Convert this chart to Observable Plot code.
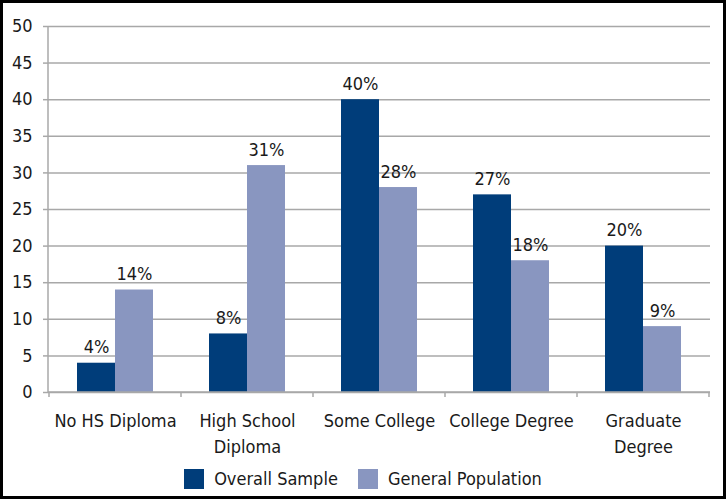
<!DOCTYPE html>
<html>
<head>
<meta charset="utf-8">
<script src="https://cdn.jsdelivr.net/npm/d3@7"></script>
<script src="https://cdn.jsdelivr.net/npm/@observablehq/plot@0.6"></script>
<style>
  html, body { margin: 0; padding: 0; background: #fff; }
  #wrap { position: relative; width: 726px; height: 499px; overflow: hidden; font-family: 'Liberation Sans Narrow', 'Arial Narrow', 'DejaVu Sans Condensed', sans-serif; }
  #border { position: absolute; left: 0; top: 0; width: 726px; height: 499px; box-sizing: border-box; border: 3px solid #000; pointer-events: none; }
  #chart { position: absolute; left: 0; top: 0; }
  #legend { position: absolute; left: 0; top: 468px; width: 726px; display: flex; justify-content: center; align-items: center; font-size: 18px; color: #1a1a1a; }
  .item { display: flex; align-items: center; margin: 0 10px; }
  .sw { width: 20px; height: 20px; margin-right: 10px; }
</style>
</head>
<body>
<div id="wrap">
  <div id="chart"></div>
  <div id="legend"></div>
  <div id="border"></div>
</div>
<script>
const categories = ["No HS Diploma", "High School\nDiploma", "Some College", "College Degree", "Graduate\nDegree"];
const seriesNames = ["Overall Sample", "General Population"];
const overallSample = [4, 8, 40, 27, 20];
const generalPopulation = [14, 31, 28, 18, 9];
const yTicks = [0, 5, 10, 15, 20, 25, 30, 35, 40, 45, 50];
const seriesColors = ["#003d7a", "#8996c0"];

const darkRows = categories.map((c, i) => ({category: c, series: seriesNames[0], value: overallSample[i]}));
const lightRows = categories.map((c, i) => ({category: c, series: seriesNames[1], value: generalPopulation[i]}));

const gridColor = "#a8a8a8";
const font = "'Liberation Sans Narrow', 'Arial Narrow', 'DejaVu Sans Condensed', sans-serif";

const chart = Plot.plot({
  width: 726,
  height: 455,
  marginLeft: 48,
  marginRight: 16,
  marginTop: 26,
  marginBottom: 63,
  style: {fontFamily: font, fontSize: "18px", color: "#1a1a1a", background: "transparent", overflow: "visible"},
  x: {domain: categories, paddingInner: 0.426, paddingOuter: 0.213, align: 0.5, label: null},
  y: {domain: [0, 50], ticks: yTicks, label: null},
  color: {domain: seriesNames, range: seriesColors},
  marks: [
    Plot.gridY(yTicks, {stroke: gridColor, strokeOpacity: 1, strokeWidth: 1.5}),
    Plot.axisY(yTicks, {tickSize: 5, tickPadding: 11, stroke: gridColor, strokeWidth: 1.5, fontSize: 18, label: null}),
    Plot.axisX({tickSize: 0, tickPadding: 17, fontSize: 18, lineHeight: 1.4, label: null}),
    Plot.barY(darkRows, {x: "category", y: "value", fill: "series", insetRight: 38}),
    Plot.barY(lightRows, {x: "category", y: "value", fill: "series", insetLeft: 38}),
    Plot.text(darkRows, {x: "category", y: "value", text: d => d.value + "%", dx: -19, dy: -10, lineAnchor: "bottom", fontSize: 18, fill: "#1a1a1a"}),
    Plot.text(lightRows, {x: "category", y: "value", text: d => d.value + "%", dx: 19, dy: -10, lineAnchor: "bottom", fontSize: 18, fill: "#1a1a1a"})
  ]
});
document.getElementById("chart").appendChild(chart);

// axis lines and category boundary ticks
const xs = chart.scale("x"), ys = chart.scale("y");
const svg = d3.select(chart);
const g = svg.append("g").attr("stroke", gridColor).attr("stroke-width", 1.5);
const x0 = 48, x1 = 726 - 16, yb = ys.apply(0), yt = ys.apply(50);
g.append("line").attr("x1", x0).attr("x2", x0).attr("y1", yt).attr("y2", yb);
g.append("line").attr("x1", x0).attr("x2", x1).attr("y1", yb).attr("y2", yb);
const off = (xs.step - xs.bandwidth) / 2;
const bounds = categories.map(c => xs.apply(c) - off).concat([xs.apply(categories[categories.length - 1]) + xs.bandwidth + off]);
bounds.forEach(b => g.append("line").attr("x1", b).attr("x2", b).attr("y1", yb).attr("y2", yb + 5));

// legend
const legend = d3.select("#legend");
seriesNames.forEach((s, i) => {
  const it = legend.append("div").attr("class", "item");
  it.append("div").attr("class", "sw").style("background", seriesColors[i]);
  it.append("span").text(s);
});
</script>
</body>
</html>
